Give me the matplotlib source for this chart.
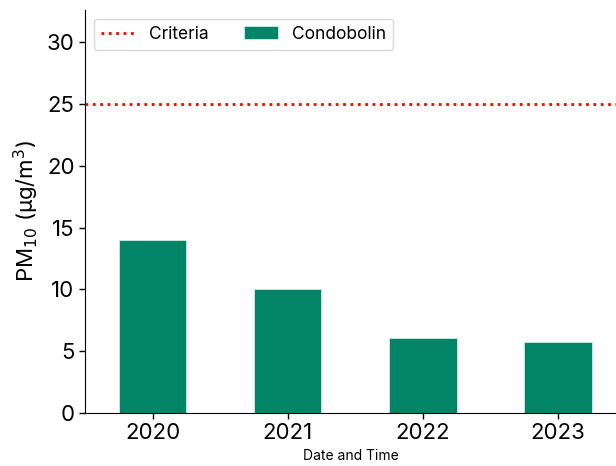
import matplotlib
matplotlib.use("Agg")
import matplotlib.pyplot as plt

years = ["2020", "2021", "2022", "2023"]
pm10 = [14.0, 10.0, 6.1, 5.75]
criteria = 25
site = "Condobolin"

plt.rcParams['font.family'] = ['Inter', 'DejaVu Sans']

fig = plt.figure(figsize=(6.16, 4.66), dpi=100)
ax = fig.add_axes([85 / 616, 53 / 466, 1 - 85 / 616, 403 / 466])

x = range(len(years))
ax.bar(x, pm10, width=0.5, color='#018566', edgecolor='#cdeee4', linewidth=0.6,
       label=site, zorder=2)
ax.axhline(criteria, color='red', linestyle=':', linewidth=2, label='Criteria', zorder=3)

ax.set_xlim(-0.5, 3.43)
ax.set_ylim(0, 32.6)
ax.set_yticks([0, 5, 10, 15, 20, 25, 30])
ax.set_xticks(list(x))
ax.set_xticklabels(years)
ax.tick_params(axis='both', labelsize=16, length=4, width=1)

ax.set_ylabel(r'PM$_{10}$ ($\mathregular{\mu}$g/m$^3$)', fontsize=16)
ax.set_xlabel('Date and Time', fontsize=10, labelpad=4)

ax.spines['top'].set_visible(False)
ax.spines['right'].set_visible(False)

handles, labels = ax.get_legend_handles_labels()
order = [labels.index('Criteria'), labels.index(site)]
ax.legend([handles[i] for i in order], [labels[i] for i in order],
          loc='upper left', ncol=2, fontsize=12.5, frameon=True,
          handlelength=2.0, handletextpad=0.8, columnspacing=2.0)

fig.savefig('out.png', dpi=100)
